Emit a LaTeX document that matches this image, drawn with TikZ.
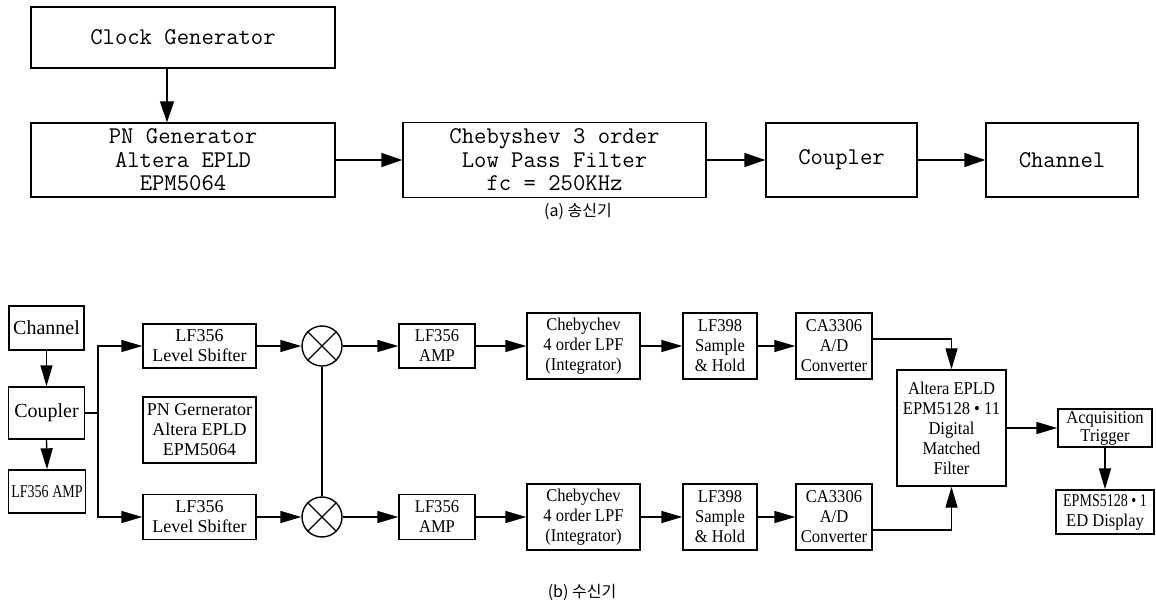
\documentclass[tikz,border=0pt]{standalone}
\usepackage{fontspec}
\setmainfont{Liberation Serif}
\newfontfamily\cond[FakeStretch=0.92]{Liberation Serif}
\newfontfamily\narrowf[FakeStretch=0.78]{Liberation Serif}
\newfontfamily\krfont{Noto Sans CJK KR}
\usetikzlibrary{arrows.meta}
\tikzset{
  tbox/.style={draw, line width=1.4pt, inner sep=0pt, align=center, font=\fontsize{24}{23.5}\selectfont\ttfamily},
  bbox/.style={draw, line width=1.4pt, inner sep=0pt, align=center, font=\fontsize{18}{20}\selectfont\cond},
  tarr/.style={-{Triangle[length=21pt,width=14pt]}, line width=1.4pt},
  barr/.style={-{Triangle[length=21pt,width=12pt]}, line width=1.4pt},
  plainline/.style={line width=1.4pt},
  mult/.style={draw, circle, line width=1.4pt, minimum size=40pt, inner sep=0pt},
  captxt/.style={font=\fontsize{16}{16}\selectfont\krfont}
}
\begin{document}
\begin{tikzpicture}[x=1pt,y=-1pt]
\useasboundingbox (0,0) rectangle (1156,609);
% ---------- (a) transmitter ----------
\node[tbox, minimum width=304pt, minimum height=61pt] (clk) at (183,37.5) {Clock Generator};
\node[tbox, minimum width=304pt, minimum height=74pt] (pn) at (183,160) {PN Generator\\Altera EPLD\\EPM5064};
\node[tbox, minimum width=303pt, minimum height=75pt] (cheb) at (554.5,160) {Chebyshev 3 order\\Low Pass Filter\\fc = 250KHz};
\node[tbox, minimum width=151pt, minimum height=74pt] (coup) at (841.5,160) {Coupler};
\node[tbox, minimum width=152pt, minimum height=74pt] (chan) at (1062,160) {Channel};
\draw[tarr] ([xshift=-16pt]clk.south) -- ([xshift=-16pt]pn.north);
\draw[tarr] (pn.east) -- (cheb.west);
\draw[tarr] (cheb.east) -- (coup.west);
\draw[tarr] (coup.east) -- (chan.west);
\node[captxt] (capa) at (578,211) {(a) 송신기};
% ---------- (b) receiver ----------
\node[bbox, font=\fontsize{20}{22}\selectfont, minimum width=75pt, minimum height=44pt] (chan2) at (46.5,328) {Channel};
\node[bbox, font=\fontsize{20}{22}\selectfont, minimum width=76pt, minimum height=52pt] (coup2) at (46.5,413) {Coupler};
\node[bbox, font=\fontsize{18}{20}\selectfont\narrowf, minimum width=77pt, minimum height=43pt] (amp0) at (47,491.5) {LF356 AMP};
\node[bbox, font=\fontsize{18}{20}\selectfont, minimum width=113pt, minimum height=44pt] (ls1) at (199.5,346) {LF356\\Level Sbifter};
\node[bbox, font=\fontsize{18}{20}\selectfont, minimum width=113pt, minimum height=66pt] (pn2) at (199.5,430) {PN Gernerator\\Altera EPLD\\EPM5064};
\node[bbox, font=\fontsize{18}{20}\selectfont, minimum width=113pt, minimum height=45pt] (ls2) at (199.5,517) {LF356\\Level Sbifter};
\node[mult] (m1) at (322,346) {};
\node[mult] (m2) at (322,517) {};
\draw[plainline] (m1.north east) -- (m1.south west) (m1.north west) -- (m1.south east);
\draw[plainline] (m2.north east) -- (m2.south west) (m2.north west) -- (m2.south east);
\node[bbox, minimum width=76pt, minimum height=44pt] (amp1) at (437,346) {LF356\\AMP};
\node[bbox, minimum width=76pt, minimum height=45pt] (amp2) at (437,517) {LF356\\AMP};
\node[bbox, minimum width=113pt, minimum height=66pt] (ch1) at (583.5,346) {Chebychev\\4 order LPF\\(Integrator)};
\node[bbox, minimum width=113pt, minimum height=66pt] (ch2) at (583.5,517) {Chebychev\\4 order LPF\\(Integrator)};
\node[bbox, minimum width=74pt, minimum height=66pt] (sah1) at (720,346) {LF398\\Sample\\{\&} Hold};
\node[bbox, minimum width=74pt, minimum height=66pt] (sah2) at (720,517) {LF398\\Sample\\{\&} Hold};
\node[bbox, minimum width=76pt, minimum height=66pt] (adc1) at (834,346) {CA3306\\A/D\\Converter};
\node[bbox, minimum width=76pt, minimum height=66pt] (adc2) at (834,517) {CA3306\\A/D\\Converter};
\node[bbox, minimum width=109pt, minimum height=116pt] (alt) at (951.5,428) {Altera EPLD\\EPM5128 • 11\\Digital\\Matched\\Filter};
\node[bbox, font=\fontsize{18}{18}\selectfont\cond, minimum width=94pt, minimum height=38pt] (acq) at (1105,428) {Acquisition\\Trigger};
\node[bbox, minimum width=98pt, minimum height=44pt] (epms) at (1105,512) {{\narrowf EPMS5128 • 1}\\ED Display};
\coordinate (split) at (98,413);
\draw[barr] (chan2.south) -- (coup2.north);
\draw[barr] (coup2.south) -- (amp0.north);
\draw[plainline] (coup2.east) -- (split);
\draw[barr] (split) |- (ls1.west);
\draw[barr] (split) |- (ls2.west);
\draw[barr] (ls1.east) -- (m1.west);
\draw[barr] (ls2.east) -- (m2.west);
\draw[plainline] (m1.south) -- (m2.north);
\draw[barr] (m1.east) -- (amp1.west);
\draw[barr] (m2.east) -- (amp2.west);
\draw[barr] (amp1.east) -- (ch1.west);
\draw[barr] (amp2.east) -- (ch2.west);
\draw[barr] (ch1.east) -- (sah1.west);
\draw[barr] (ch2.east) -- (sah2.west);
\draw[barr] (sah1.east) -- (adc1.west);
\draw[barr] (sah2.east) -- (adc2.west);
\draw[barr] ([yshift=7pt]adc1.east) -| (alt.north);
\draw[barr] ([yshift=-13pt]adc2.east) -| (alt.south);
\draw[barr] (alt.east) -- (acq.west);
\draw[barr] (acq.south) -- (epms.north);
\node[captxt] (capb) at (582,592) {(b) 수신기};
\end{tikzpicture}
\end{document}
